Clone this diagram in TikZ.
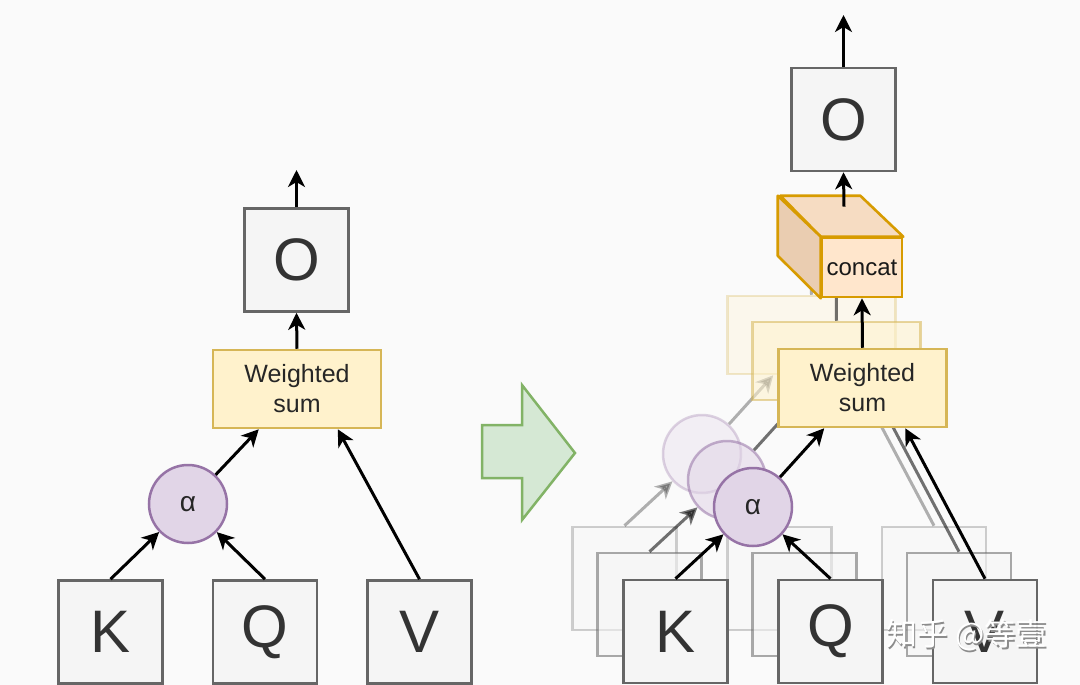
\documentclass[tikz,border=0pt]{standalone}
\usepackage{fontspec}
\setmainfont{Liberation Sans}
\newfontfamily\cjk{Noto Sans CJK SC}
\usetikzlibrary{arrows.meta,calc}
\definecolor{bg}{HTML}{FAFAFA}
\definecolor{boxfill}{HTML}{F5F5F5}
\definecolor{boxline}{HTML}{666666}
\definecolor{txt}{HTML}{333333}
\definecolor{wsfill}{HTML}{FFF2CC}
\definecolor{wsline}{HTML}{D6B656}
\definecolor{afill}{HTML}{E1D5E7}
\definecolor{aline}{HTML}{9673A6}
\definecolor{cfront}{HTML}{FFE6CC}
\definecolor{ctop}{HTML}{F6DCC2}
\definecolor{cleft}{HTML}{EACDB1}
\definecolor{cline}{HTML}{D79B00}
\definecolor{gfill}{HTML}{D5E8D4}
\definecolor{gline}{HTML}{82B366}
\tikzset{
  letterbox/.style={draw=boxline, fill=boxfill, line width=2.6pt, minimum width=104pt, minimum height=103pt, inner sep=0pt, font=\fontsize{60}{72}\selectfont, text=txt},
  wsbox/.style={draw=wsline, fill=wsfill, line width=2.5pt, minimum width=168pt, minimum height=78pt, inner sep=0pt, align=center, font=\fontsize{25}{30}\selectfont, text=black!85},
  alphanode/.style={circle, draw=aline, fill=afill, line width=2.5pt, minimum size=78pt, inner sep=0pt, font=\fontsize{28}{30}\selectfont, text=black!85},
  cubefront/.style={draw=cline, fill=cfront, line width=2.6pt, minimum width=80pt, minimum height=59pt, inner sep=0pt, font=\fontsize{24}{30}\selectfont, text=black!90},
  arr/.style={line width=3pt, draw=black, -{Stealth[length=17pt,width=17pt,inset=5pt]}},
  plainline/.style={line width=3pt, draw=black}
}
\begin{document}
\begin{tikzpicture}[x=1pt,y=-1pt]
\useasboundingbox (0,0) rectangle (1080,685);
\fill[bg] (0,0) rectangle (1080,685);

% ---------- left diagram ----------
\node[letterbox] (O1) at (296.5,260) {O};
\node[wsbox] (W1) at (297,389) {Weighted\\sum};
\node[alphanode] (A1) at (188,504) {α};
\node[letterbox] (K1) at (110.5,632) {K};
\node[letterbox] (Q1) at (265,632) {Q};
\node[letterbox] (V1) at (419.5,632) {V};
\coordinate (O1out) at (296.5,170);
\draw[arr] (O1.north) -- (O1out);
\draw[arr] (W1.north) -- (O1.south);
\draw[arr] (A1) -- ([xshift=47pt]W1.south west);
\draw[arr] (K1.north) -- (A1);
\draw[arr] (Q1.north) -- (A1);
\draw[arr] (V1.north) -- ([xshift=126pt]W1.south west);

% ---------- green arrow ----------
\draw[fill=gfill, draw=gline, line width=2.5pt, line join=miter]
  (482,425) -- (522,425) -- (522,385) -- (575,453) -- (522,520) -- (522,478) -- (482,478) -- cycle;

% ---------- right diagram: faded copies ----------
\foreach \dx/\dy/\op/\n in {-51/-53/0.3/c, -26/-27/0.55/b} {
  \begin{scope}[shift={(\dx,\dy)}, opacity=\op]
    \node[letterbox] (K\n) at (675.5,631.5) {};
    \node[letterbox] (Q\n) at (830.5,631.5) {};
    \node[letterbox] (V\n) at (985,631.5) {};
    \node[wsbox] (W\n) at (862.5,388) {};
    \node[alphanode] (A\n) at (753,507) {};
    \coordinate (C\n) at (862,297);
    \draw[arr] (K\n.north) -- (A\n);
    \draw[arr] (A\n) -- ([xshift=47pt]W\n.south west);
    \draw[arr] (V\n.north) -- ([xshift=128pt]W\n.south west);
    \draw[plainline] (W\n.north) -- (C\n);
  \end{scope}
}

% ---------- right diagram: main ----------
\node[letterbox] (O2) at (843.5,119.5) {O};
\node[cubefront] (C2) at (862,267.5) {};
\draw[draw=cline, fill=ctop, line width=2.6pt, line join=round]
  (C2.north west) -- (C2.north east) -- ++(-43,-41) -- ++(-80,0) -- cycle;
\draw[draw=cline, fill=cleft, line width=2.6pt, line join=round]
  (C2.north west) -- ++(-43,-41) -- ++(0,60) -- (C2.south west) -- cycle;
\node[cubefront, fill=none, draw=none] (C2t) at (C2) {concat};
\coordinate (C2out) at ($(C2.north)+(-18,-30)$);
\coordinate (O2out) at (843.5,15);
\draw[arr] (O2.north) -- (O2out);
\draw[arr] (C2out) -- (O2.south);

\node[wsbox] (W2) at (862.5,388) {Weighted\\sum};
\node[alphanode] (A2) at (753,507) {α};
\node[letterbox] (K2) at (675.5,631.5) {K};
\node[letterbox] (Q2) at (830.5,631.5) {Q};
\node[letterbox] (V2) at (985,631.5) {V};
\draw[arr] (W2.north) -- (C2.south);
\draw[arr] (A2) -- ([xshift=47pt]W2.south west);
\draw[arr] (K2.north) -- (A2);
\draw[arr] (Q2.north) -- (A2);
\draw[arr] (V2.north) -- ([xshift=128pt]W2.south west);

% ---------- watermark ----------
\node[font=\cjk\fontsize{31}{36}\selectfont, text=black!45] at (968,637) {知乎 @等壹};
\node[font=\cjk\fontsize{31}{36}\selectfont, text=white] (wm) at (966.5,635.5) {知乎 @等壹};
\end{tikzpicture}
\end{document}
